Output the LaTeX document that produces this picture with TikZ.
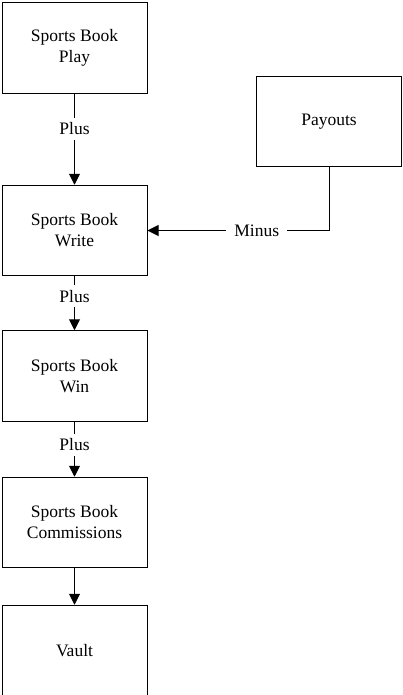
\documentclass[tikz,border=0pt]{standalone}
\usepackage{fontspec}
\setmainfont{Liberation Serif}
\usetikzlibrary{arrows.meta}
\begin{document}
\begin{tikzpicture}[x=1pt,y=-1pt,
  flowbox/.style={draw=black, line width=1pt, minimum width=145pt, minimum height=90.5pt,
    inner sep=0pt, align=center, font=\fontsize{17.5}{21}\selectfont},
  flowarrow/.style={draw=black, line width=1pt, -{Triangle[length=11pt,width=11pt]}},
  flowlabel/.style={fill=white, inner xsep=8pt, inner ysep=5pt, font=\fontsize{17.5}{21}\selectfont}]
\useasboundingbox (0,0) rectangle (402,695);
\clip (0,0) rectangle (402,695);

\node[flowbox] (play)   at (74.5,48)    {Sports Book\\Play};
\node[flowbox] (write)  at (74.5,230.5) {Sports Book\\Write};
\node[flowbox] (win)    at (74.5,376)   {Sports Book\\Win};
\node[flowbox] (comm)   at (74.5,522.5) {Sports Book\\Commissions};
\node[flowbox] (vault)  at (74.5,650.5) {Vault};
\node[flowbox] (payout) at (329,121.5)  {Payouts};

\draw[flowarrow] (play) -- node[flowlabel, pos=0.386] {Plus} (write);
\draw[flowarrow] (write) -- node[flowlabel, pos=0.37] {Plus} (win);
\draw[flowarrow] (win) -- node[flowlabel, pos=0.42] {Plus} (comm);
\draw[flowarrow] (comm) -- (vault);
\draw[flowarrow] (payout.south) |- node[flowlabel, pos=0.699] {Minus} (write.east);
\end{tikzpicture}
\end{document}
